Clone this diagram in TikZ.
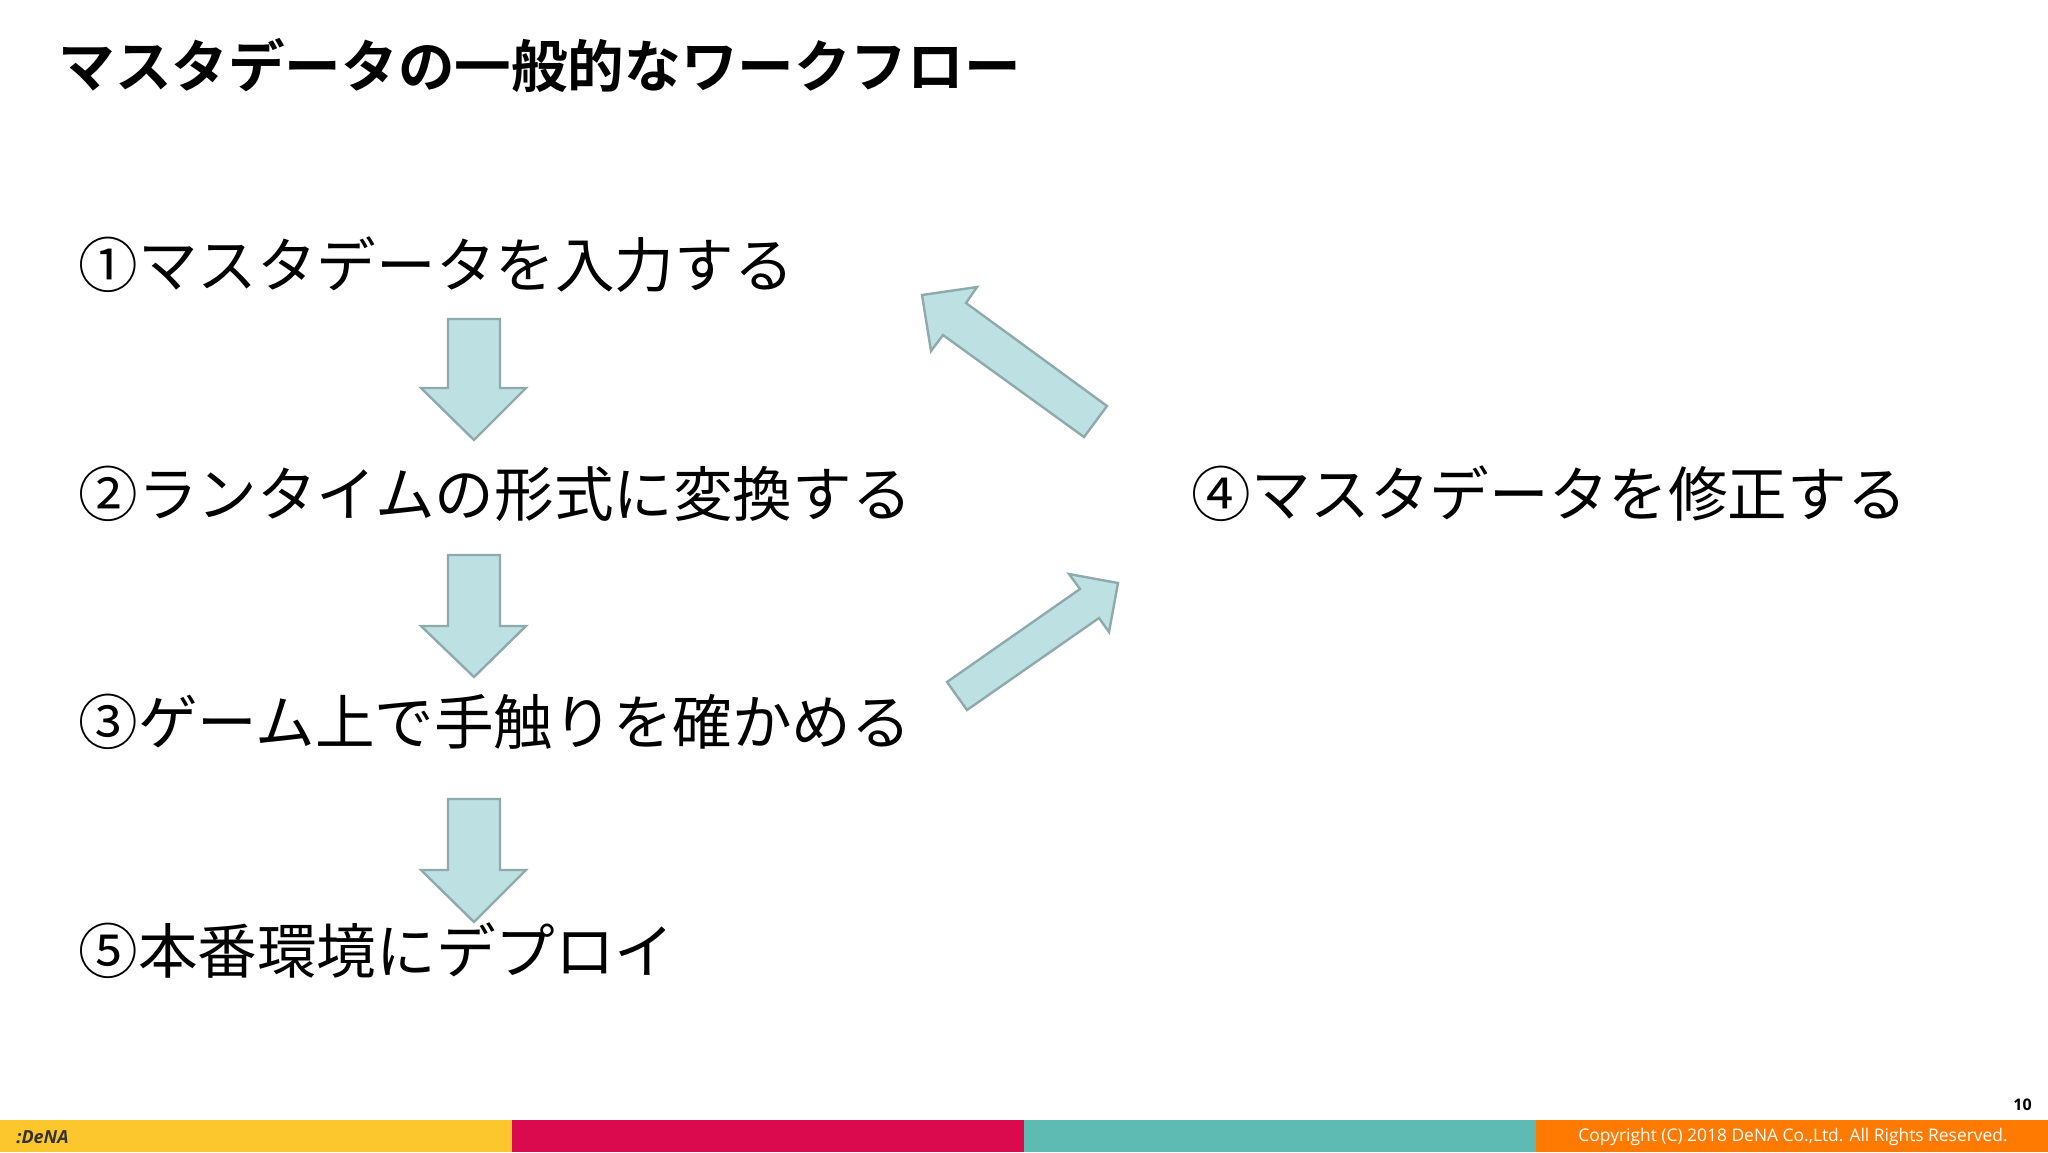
\documentclass[tikz,border=0pt]{standalone}
\usepackage{fontspec}
\setmainfont{Noto Sans CJK JP}
\newfontfamily\jpb{Noto Sans CJK JP Bold}
\newfontfamily\jpl{Noto Sans CJK JP}
\newfontfamily\ftr{Open Sans}
\definecolor{arfill}{HTML}{BDE0E3}
\definecolor{ardraw}{HTML}{8FAAAC}
\definecolor{cy}{HTML}{FCC72D}
\definecolor{cp}{HTML}{DB0A4F}
\definecolor{ct}{HTML}{5DBBB4}
\definecolor{co}{HTML}{FF7A00}
\tikzset{bigarrow/.style={fill=arfill,draw=ardraw,line width=1.2pt,line join=miter},
item/.style={anchor=west,inner sep=0,font=\fontsize{29.8}{34}\selectfont\jpl}}
\begin{document}
\begin{tikzpicture}[x=0.5pt,y=-0.5pt]
\useasboundingbox (0,0) rectangle (2048,1152);
\fill[white] (0,0) rectangle (2048,1152);
\node[anchor=west,inner sep=0,font=\fontsize{28.3}{32}\selectfont\jpb] (title) at (58,65) {マスタデータの一般的なワークフロー};
\node[item] (i1) at (78,265) {①マスタデータを入力する};
\node[item] (i2) at (78,494) {②ランタイムの形式に変換する};
\node[item] (i3) at (78,722) {③ゲーム上で手触りを確かめる};
\node[item] (i5) at (78,951) {⑤本番環境にデプロイ};
\node[item] (i4) at (1191,494) {④マスタデータを修正する};
\foreach \t/\h/\b in {319/388/440, 555/626/677, 799/870/922}{
\draw[bigarrow] (448,\t) -- (500,\t) -- (500,\h) -- (526,\h) -- (474,\b) -- (421,\h) -- (448,\h) -- cycle;}
\draw[bigarrow] (922,295) -- (977,287) -- (966,303) -- (1107,406) -- (1084,437) -- (943,335) -- (931,351) -- cycle;
\draw[bigarrow] (947,682) -- (967,710) -- (1099,618) -- (1109,632) -- (1118,583) -- (1069,574) -- (1080,589) -- cycle;
\fill[cy] (0,1120) rectangle (512,1152);
\fill[cp] (512,1120) rectangle (1024,1152);
\fill[ct] (1024,1120) rectangle (1536,1152);
\fill[co] (1536,1120) rectangle (2048,1152);
\node[anchor=west,inner sep=0,font=\fontsize{9}{10}\selectfont\ftr\bfseries\itshape,text=black!80] (logo) at (16,1137) {:DeNA};
\node[anchor=east,inner sep=0,font=\fontsize{8.7}{10}\selectfont\ftr,text=white] (copy) at (2008,1137) {Copyright (C) 2018 DeNA Co.,Ltd. All Rights Reserved.};
\node[anchor=east,inner sep=0,font=\fontsize{8}{10}\selectfont\ftr\bfseries] (pg) at (2032,1105) {10};
\end{tikzpicture}
\end{document}
